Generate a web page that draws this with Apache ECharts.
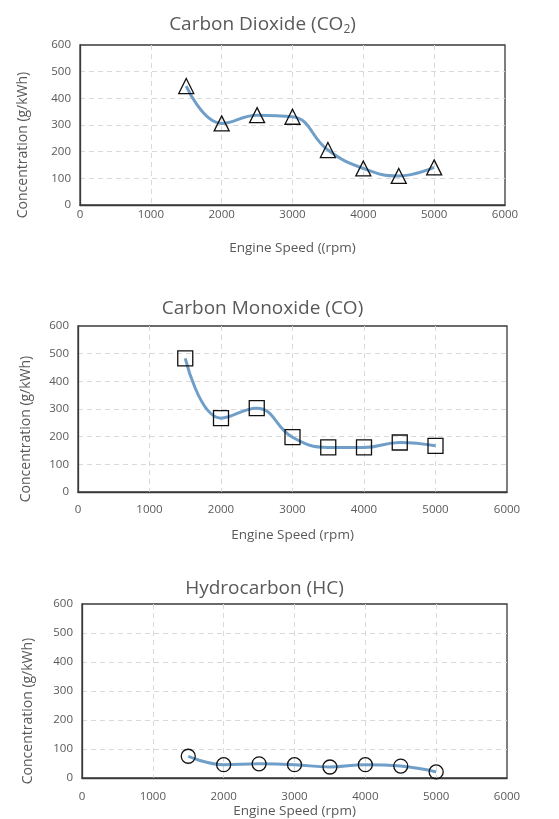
<!DOCTYPE html>
<html>
<head>
<meta charset="utf-8">
<script src="https://cdn.jsdelivr.net/npm/echarts@6/dist/echarts.min.js"></script>
<style>
html,body{margin:0;padding:0;background:#fff;}
#c{width:559px;height:819px;}
</style>
</head>
<body>
<div id="c"></div>
<script>
const speeds = [1500, 2000, 2500, 3000, 3500, 4000, 4500, 5000];
const co2 = [446, 306, 337, 331, 206, 137, 109, 141];
const co = [483, 267, 303, 198, 161, 161, 179, 167];
const hc = [75, 46, 49, 46, 38, 46, 41, 21];
const titles = ['Carbon Dioxide (CO{sub|2})', 'Carbon Monoxide (CO)', 'Hydrocarbon (HC)'];
const xNames = ['Engine Speed ((rpm)', 'Engine Speed (rpm)', 'Engine Speed (rpm)'];
const yName = 'Concentration (g/kWh)';
const symbols = ['triangle', 'rect', 'circle'];
const seriesData = [co2, co, hc];

const FONT = '"Open Sans", "Noto Sans", sans-serif';
const TXT = '#595959';
const grids = [
  {left: 80, right: 54, top: 45, height: 160},
  {left: 78, right: 52, top: 326, height: 166},
  {left: 82, right: 52, top: 604, height: 175}
];
const titleTops = [9, 294, 574];
const xLabelMargins = [4, 12, 13];
const xNameGaps = [36, 36, 26];
const yNameGaps = [50, 45, 47];
const symSizes = [15, 15, 14];

const chart = echarts.init(document.getElementById('c'), null, {renderer: 'canvas'});
const option = {
  animation: false,
  backgroundColor: '#fff',
  title: titles.map((t, i) => ({
    text: t,
    left: (grids[i].left + (559 - grids[i].right)) / 2 - 35,
    top: titleTops[i],
    textAlign: 'center',
    textStyle: {
      fontFamily: FONT, fontSize: 19, fontWeight: 'normal', color: TXT,
      rich: { sub: { fontFamily: FONT, fontSize: 12, color: TXT, verticalAlign: 'bottom', padding: [10, 0, 0, 0] } }
    }
  })),
  grid: grids.map(g => Object.assign({show: true, borderColor: '#3a3a3a', borderWidth: 1.3, backgroundColor: '#fff'}, g)),
  xAxis: grids.map((g, i) => ({
    type: 'value', gridIndex: i, min: 0, max: 6000, interval: 1000,
    name: xNames[i], nameLocation: 'middle', nameGap: xNameGaps[i],
    nameTextStyle: {fontFamily: FONT, fontSize: 13.5, color: TXT},
    axisLine: {show: true, lineStyle: {color: '#3a3a3a', width: 1.3}}, axisTick: {show: false},
    axisLabel: {fontFamily: FONT, fontSize: 11.5, color: TXT, margin: xLabelMargins[i], formatter: v => String(v)},
    splitLine: {show: true, showMinLine: false, showMaxLine: false, lineStyle: {color: '#d9d9d9', type: [5, 4], width: 1}}
  })),
  yAxis: grids.map((g, i) => ({
    type: 'value', gridIndex: i, min: 0, max: 600, interval: 100,
    name: yName, nameLocation: 'middle', nameGap: yNameGaps[i],
    nameTextStyle: {fontFamily: FONT, fontSize: 14, color: TXT, padding: [0, 40, 0, 0]},
    axisLine: {show: true, lineStyle: {color: '#3a3a3a', width: 1.3}}, axisTick: {show: false},
    axisLabel: {fontFamily: FONT, fontSize: 11.5, color: TXT, margin: 9, formatter: v => String(v)},
    splitLine: {show: true, showMinLine: false, showMaxLine: false, lineStyle: {color: '#d9d9d9', type: [5, 4], width: 1}}
  })),
  series: seriesData.map((d, i) => ({
    type: 'line', xAxisIndex: i, yAxisIndex: i,
    data: speeds.map((s, j) => [s, d[j]]),
    smooth: 0.45,
    symbol: symbols[i], symbolSize: symSizes[i],
    lineStyle: {color: '#6f9fc8', width: 3},
    itemStyle: {color: 'rgba(0,0,0,0)', borderColor: '#111', borderWidth: 1.3},
    z: 3
  }))
};
chart.setOption(option);
</script>
</body>
</html>
